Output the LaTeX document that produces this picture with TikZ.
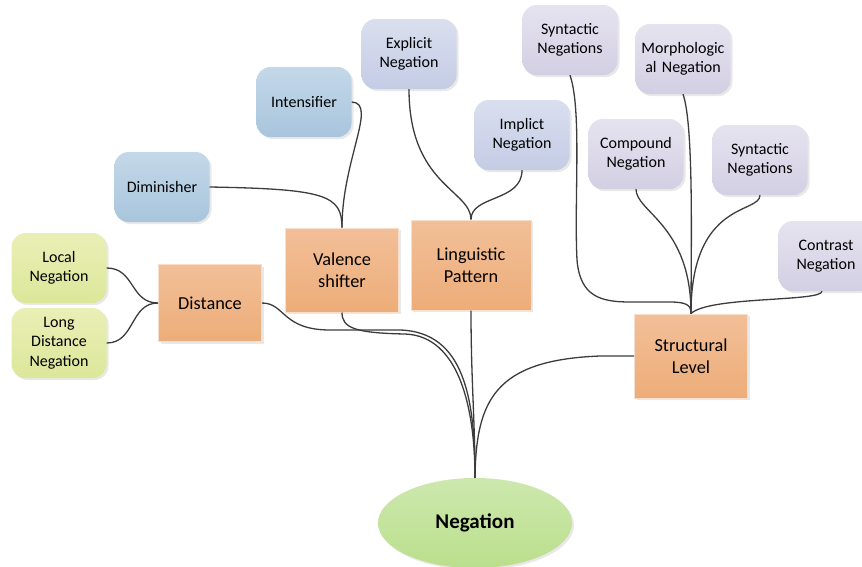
\documentclass[tikz,border=0pt]{standalone}
\usepackage{fontspec}
\setmainfont{Carlito}
\usetikzlibrary{shapes.geometric,shadows}
\definecolor{orT}{HTML}{F2BF98}
\definecolor{orB}{HTML}{EDAD79}
\definecolor{yeT}{HTML}{EAEFB6}
\definecolor{yeB}{HTML}{DCE79A}
\definecolor{blT}{HTML}{C4D8E8}
\definecolor{blB}{HTML}{A8C5DD}
\definecolor{lvT}{HTML}{DADFEF}
\definecolor{lvB}{HTML}{C4CCE5}
\definecolor{puT}{HTML}{E6E3F0}
\definecolor{puB}{HTML}{D3CFE3}
\definecolor{grT}{HTML}{CDE8AE}
\definecolor{grB}{HTML}{BADF8C}
\definecolor{ln}{HTML}{3C3C3C}
\tikzset{
  shd/.style={drop shadow={opacity=0.18,shadow xshift=2pt,shadow yshift=-2pt}},
  leaf/.style={shd,rounded corners=14pt,minimum width=95pt,minimum height=70pt,
    align=center,font=\fontsize{16}{19.5}\selectfont,inner sep=2pt,text width=90pt},
  yel/.style={leaf,top color=yeT,bottom color=yeB},
  blu/.style={leaf,top color=blT,bottom color=blB},
  lav/.style={leaf,top color=lvT,bottom color=lvB},
  pur/.style={leaf,top color=puT,bottom color=puB},
  hub/.style={shd,draw=orT!50!white,line width=1pt,top color=orT,bottom color=orB,
    align=center,font=\fontsize{18.3}{21.5}\selectfont,inner sep=2pt},
  conn/.style={draw=ln,line width=1.3pt}
}
\begin{document}
\begin{tikzpicture}[x=1pt,y=-1pt]
\useasboundingbox (0,0) rectangle (862,566);
\clip (0,0) rectangle (862,566);
% leaves
\node[yel] (local) at (59,268) {Local\\Negation};
\node[yel] (long) at (59,343) {Long\\Distance\\Negation};
\node[blu] (dim) at (162,187) {Diminisher};
\node[blu] (int) at (304,102) {Intensifier};
\node[lav] (exp) at (409,54) {Explicit\\Negation};
\node[lav] (imp) at (522,135) {Implict\\Negation};
\node[pur] (syn1) at (570,40) {Syntactic\\Negations};
\node[pur] (mor) at (683,59) {Morphologic\\al Negation};
\node[pur] (com) at (636,154) {Compound\\Negation};
\node[pur] (syn2) at (760,160) {Syntactic\\Negations};
\node[pur] (con) at (826,256) {Contrast\\Negation};
% hubs
\node[hub,minimum width=103pt,minimum height=77pt] (dist) at (210,303) {Distance};
\node[hub,minimum width=113pt,minimum height=84pt] (val) at (342,270) {Valence\\shifter};
\node[hub,minimum width=120pt,minimum height=90pt] (ling) at (471,265) {Linguistic\\Pattern};
\node[hub,minimum width=113pt,minimum height=84pt] (str) at (691,356) {Structural\\Level};
% root
\node[shd,ellipse,top color=grT,bottom color=grB,minimum width=194pt,minimum height=90pt,
  font=\fontsize{21}{24}\selectfont\bfseries] (neg) at (475,523) {Negation};
% connectors
\draw[conn] (local.east) .. controls (135,268) and (130,303) .. (dist.west);
\draw[conn] (long.east) .. controls (135,343) and (130,303) .. (dist.west);
\draw[conn] (dim.east) .. controls (325,189) and (342,195) .. (val.north);
\draw[conn] (int.east) .. controls (378,103) and (342,160) .. (val.north);
\draw[conn] (exp.south) .. controls (409,185) and (471,190) .. (ling.north);
\draw[conn] (imp.south) .. controls (522,202) and (471,195) .. (ling.north);
\draw[conn] (syn1.south) .. controls (582,110) and (574,200) .. (577,260) .. controls (580,296) and (600,302) .. (630,302) -- (670,302) .. controls (688,302) and (691,306) .. (str.north);
\draw[conn] (mor.south) .. controls (694,125) and (691,250) .. (str.north);
\draw[conn] (com.south) .. controls (636,212) and (691,225) .. (str.north);
\draw[conn] (syn2.south) .. controls (760,214) and (691,200) .. (str.north);
\draw[conn] ([xshift=-4pt]con.south) .. controls (822,302) and (710,296) .. (str.north);
\draw[conn] (dist.east) .. controls (285,303) and (282,330) .. (330,330) -- (400,330) .. controls (465,332) and (475,400) .. (neg.north);
\draw[conn] (val.south) .. controls (342,328) and (355,333) .. (405,334) .. controls (460,336) and (475,410) .. (neg.north);
\draw[conn] (ling.south) .. controls (471,380) and (475,420) .. (neg.north);
\draw[conn] (str.west) -- (600,356) .. controls (495,360) and (476,400) .. (neg.north);
\end{tikzpicture}
\end{document}
